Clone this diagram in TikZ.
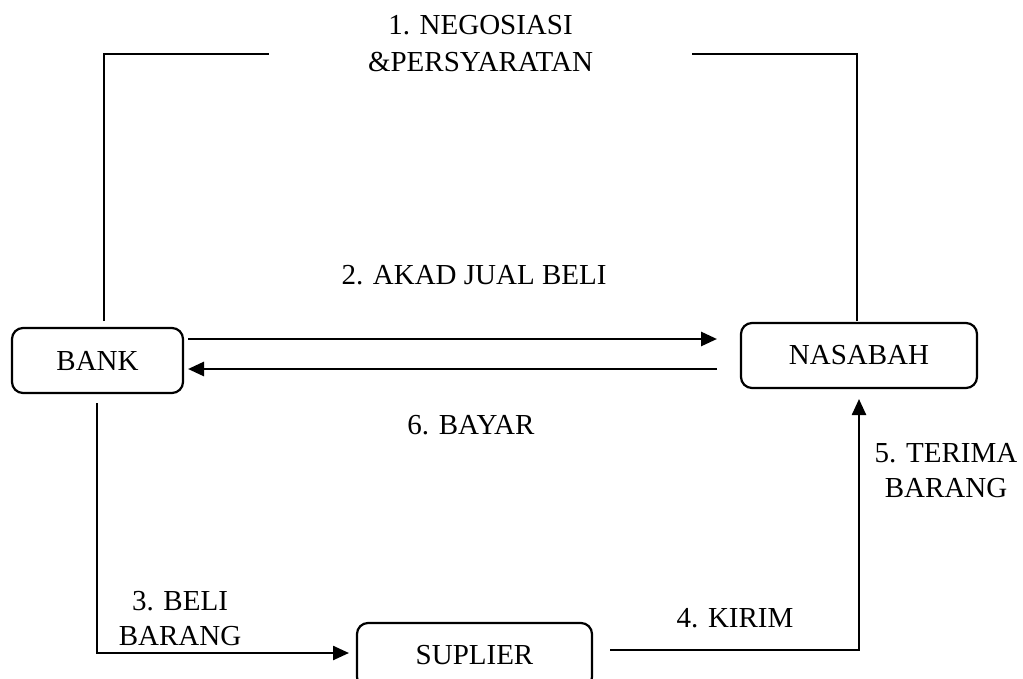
\documentclass[tikz,border=0pt]{standalone}
\usepackage{fontspec}
\setmainfont{Liberation Serif}
\usetikzlibrary{arrows.meta}
\begin{document}
\begin{tikzpicture}[x=1pt,y=-1pt,
  box/.style={draw, line width=2.2pt, rounded corners=11pt, minimum height=65pt, inner sep=0pt,
              font=\fontsize{29}{35}\selectfont},
  lbl/.style={font=\fontsize{29}{35}\selectfont, align=center, inner sep=0pt},
  thinline/.style={line width=1.5pt},
  conn/.style={line width=2.8pt, -{Triangle[length=16pt,width=14pt]}},
  lowconn/.style={line width=2.4pt, -{Triangle[length=16pt,width=14pt]}}]
\useasboundingbox (0,0) rectangle (1023,678);
\clip (0,0) rectangle (1023,678);
\fill[white] (0,0) rectangle (1023,678);

% boxes
\node[box, minimum width=171pt] (bank) at (97.5,360.5) {BANK};
\node[box, minimum width=236pt] (nasabah) at (859,355.5) {NASABAH};
\node[box, minimum width=235pt] (suplier) at (474.5,655.5) {SUPLIER};

% labels
\node[lbl, font=\fontsize{29}{37}\selectfont] (neg) at (480.5,43.5) {1. NEGOSIASI\\\&PERSYARATAN};
\node[lbl] (akad) at (474,275) {2. AKAD JUAL BELI};
\node[lbl] (bayar) at (471,425) {6. BAYAR};
\node[lbl] (beli) at (180,618.5) {3. BELI\\BARANG};
\node[lbl] (kirim) at (735,618.5) {4. KIRIM};
\node[lbl] (terima) at (946,470.5) {5. TERIMA\\BARANG};

% coordinates
\coordinate (tlA) at (104,321);
\coordinate (tlB) at (104,54);
\coordinate (tlC) at (269,54);
\coordinate (trA) at (692,54);
\coordinate (trB) at (857,54);
\coordinate (trC) at (857,321);
\coordinate (a2s) at (188,339);
\coordinate (a2e) at (717,339);
\coordinate (a6s) at (717,369);
\coordinate (a6e) at (188,369);
\coordinate (b3s) at (97,403);
\coordinate (b3c) at (97,653);
\coordinate (b3e) at (349,653);
\coordinate (k4s) at (610,650);
\coordinate (k4c) at (859,650);
\coordinate (k4e) at (859,399);

% connectors
\draw[thinline] (tlA) -- (tlB) -- (tlC);
\draw[thinline] (trA) -- (trB) -- (trC);
\draw[conn] (a2s) -- (a2e);
\draw[conn] (a6s) -- (a6e);
\draw[lowconn] (b3s) -- (b3c) -- (b3e);
\draw[lowconn] (k4s) -- (k4c) -- (k4e);
\end{tikzpicture}
\end{document}
